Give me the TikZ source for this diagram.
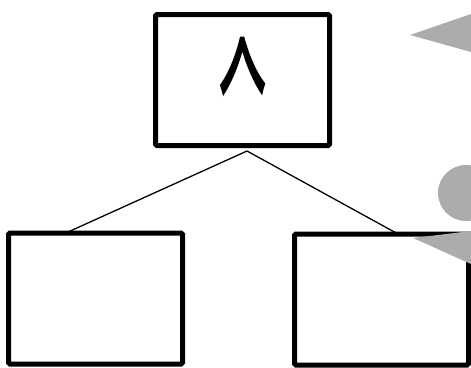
\documentclass[tikz,border=0pt]{standalone}
\usepackage{fontspec}
\newfontfamily\cjk[FakeBold=3]{Noto Sans CJK JP}
\usetikzlibrary{positioning}

\begin{document}
\begin{tikzpicture}[x=1pt, y=-1pt]
      \tikzset{box/.style={draw, line width=5pt, rounded corners=1.5pt, fill=white,
          minimum width=174pt, minimum height=131pt, inner sep=0pt},
        link/.style={line width=1.3pt}}
      \useasboundingbox (0,0) rectangle (471,367);
      % gray shapes on the right
      \fill[gray!65] (410,35) -- (471,14) -- (471,52) -- cycle;
      \fill[gray!65] (466,193) circle (28);
      % links first, boxes on top
      \coordinate (apex) at (247,151);
      \coordinate (lend) at (68,232);
      \coordinate (rend) at (398,234);
      \draw[link] (apex) -- (lend);
      \draw[link] (apex) -- (rend);
      \node[box] (top) at (242.5,80) {\cjk\fontsize{58}{58}\selectfont\raisebox{-3pt}{\scalebox{0.8}[2.25]{𠆢}}};
      \node[box] (left) at (95.5,298.5) {};
      \node[box] (right) at (381.5,299.5) {};
      \fill[gray!65] (413,238) -- (471,231) -- (471,264) -- cycle;
\end{tikzpicture}
\end{document}
